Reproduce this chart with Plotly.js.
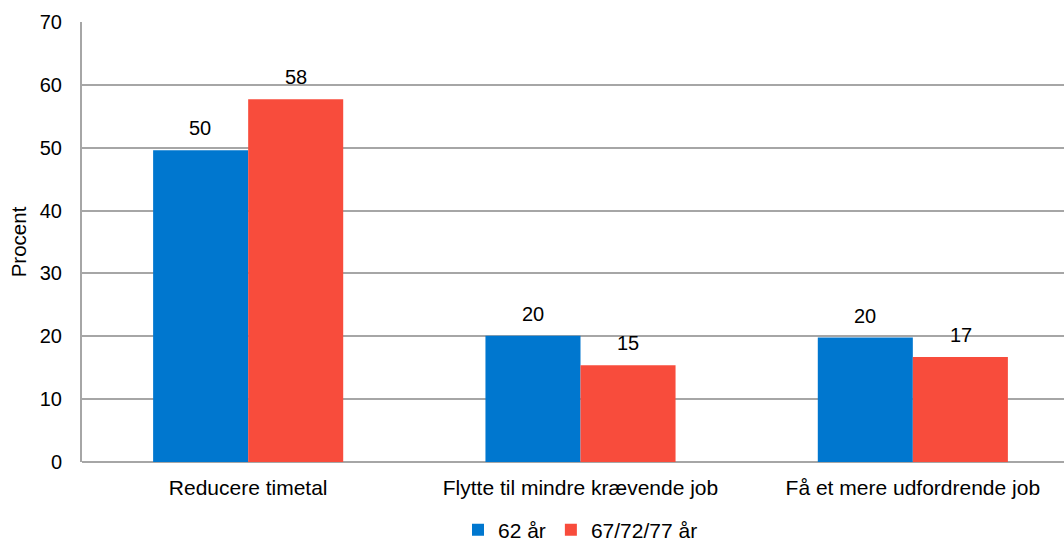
<!DOCTYPE html>
<html>
<head>
<meta charset="utf-8">
<script src="https://cdn.plot.ly/plotly-3.0.1.min.js"></script>
<style>
html,body{margin:0;padding:0;overflow:hidden;background:#fff;width:1064px;height:544px;}
#chart{width:1080px;height:570px;}
</style>
</head>
<body>
<div id="chart"></div>
<script>
const categories = ["Reducere timetal", "Flytte til mindre krævende job", "Få et mere udfordrende job"];
const seriesNames = ["62 år", "67/72/77 år"];
const values62 = [49.6, 20.1, 19.8];
const values67 = [57.7, 15.4, 16.7];
const labels62 = ["50", "20", "20"];
const labels67 = ["58", "15", "17"];
const yTicks = [0, 10, 20, 30, 40, 50, 60, 70];

const FONT = "Liberation Sans, Arial, sans-serif";
const colors = ["#0077CF", "#F84C3C"];

const traces = [
  {type: "bar", name: seriesNames[0], x: categories, y: values62, marker: {color: colors[0]}, hoverinfo: "skip"},
  {type: "bar", name: seriesNames[1], x: categories, y: values67, marker: {color: colors[1]}, hoverinfo: "skip"}
];

const annotations = [];
const half = 0.1435;
[[values62, labels62, -half], [values67, labels67, half]].forEach(([vals, labs, off]) => {
  vals.forEach((v, i) => {
    annotations.push({
      x: i + off, y: v, xref: "x", yref: "y", text: labs[i], showarrow: false,
      yanchor: "bottom", yshift: 9, font: {family: FONT, size: 20, color: "#000"}
    });
  });
});

const layout = {
  width: 1080, height: 570,
  margin: {l: 82, r: 1, t: 22, b: 108},
  paper_bgcolor: "#fff", plot_bgcolor: "#fff",
  font: {family: FONT, size: 20, color: "#000"},
  barmode: "group", bargap: 0.428, bargroupgap: 0,
  xaxis: {
    type: "category", range: [-0.5, 2.5],
    showgrid: false, zeroline: false, showline: false,
    ticks: "outside", ticklen: 7, tickcolor: "rgba(0,0,0,0)",
    tickfont: {family: FONT, size: 21, color: "#000"}, fixedrange: true
  },
  yaxis: {
    range: [0, 70], tickvals: yTicks, ticktext: yTicks.map(String),
    showgrid: true, gridcolor: "#A6A6A6", gridwidth: 2,
    zeroline: true, zerolinecolor: "#A6A6A6", zerolinewidth: 2,
    showline: true, linecolor: "#A6A6A6", linewidth: 2,
    ticks: "outside", ticklen: 14, tickcolor: "rgba(0,0,0,0)",
    tickfont: {family: FONT, size: 20, color: "#000"},
    title: {text: "Procent", font: {family: FONT, size: 20.5, color: "#000"}, standoff: 8},
    fixedrange: true
  },
  showlegend: true,
  legend: {
    orientation: "h", x: 0.5, xanchor: "center", y: -0.108, yanchor: "top",
    font: {family: FONT, size: 21, color: "#000"}, itemwidth: 30, traceorder: "normal"
  },
  annotations: annotations
};

Plotly.newPlot("chart", traces, layout, {displayModeBar: false, staticPlot: true});
</script>
</body>
</html>
